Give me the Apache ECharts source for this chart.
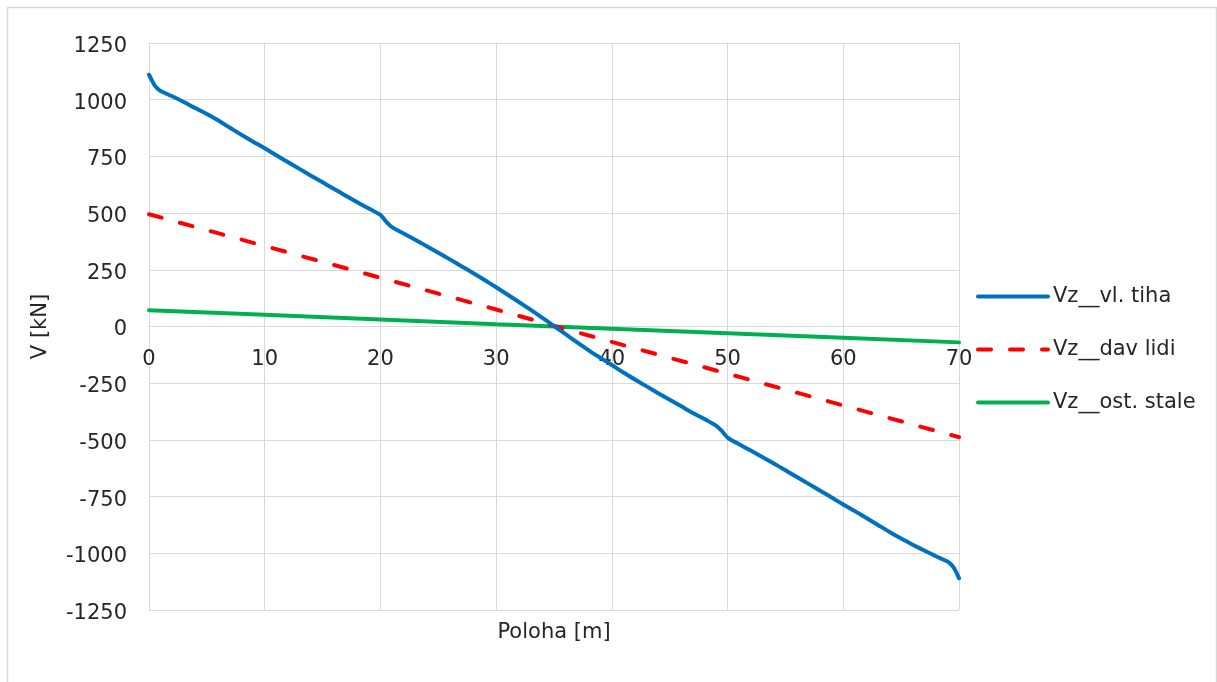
<!DOCTYPE html>
<html>
<head>
<meta charset="utf-8">
<script src="https://cdn.jsdelivr.net/npm/echarts@6/dist/echarts.min.js"></script>
<style>
html,body{margin:0;padding:0;background:#fff;}
#chart{width:1217px;height:682px;}
</style>
</head>
<body>
<div id="chart"></div>
<script>
// Data
var seriesNames = ['Vz__vl. tiha', 'Vz__dav lidi', 'Vz__ost. stale'];

var blueX = [0, 0.25, 0.5, 0.75, 1, 2, 3, 4, 5, 6, 7, 8, 9, 10, 11, 12, 13, 14, 15, 16, 17, 18, 19, 20, 20.5, 21, 22, 23, 24, 25, 26, 27, 28, 29, 30, 31, 32, 33, 34, 35, 36, 37, 38, 39, 40, 41, 42, 43, 44, 45, 46, 47, 48, 49, 49.5, 50, 51, 52, 53, 54, 55, 56, 57, 58, 59, 60, 61, 62, 63, 64, 65, 66, 67, 68, 69, 69.25, 69.5, 69.75, 70];
var blueV = [1110, 1085, 1062, 1048, 1038, 1015, 990, 963, 937, 908, 876, 845, 815, 786, 755, 725, 695, 665, 636, 606, 577, 548, 520, 492, 462, 438, 410, 383, 354, 325, 296, 266, 236, 205, 173, 140, 107, 73, 38, 2, -34, -70, -105, -138, -170, -203, -234, -264, -294, -323, -352, -381, -408, -437, -460, -490, -519, -547, -575, -604, -634, -664, -694, -724, -754, -785, -814, -844, -875, -906, -935, -962, -988, -1013, -1036, -1046, -1060, -1082, -1110];

var redX = [0, 10, 20, 30, 35, 40, 50, 60, 70];
var redV = [495, 355, 215, 75, 3, -68, -208, -348, -488];

var greenX = [0, 10, 20, 30, 35, 40, 50, 60, 70];
var greenV = [72, 52, 31, 10, 0, -10, -30, -50, -70];

var xTicks = [0, 10, 20, 30, 40, 50, 60, 70];
var yTicks = [-1250, -1000, -750, -500, -250, 0, 250, 500, 750, 1000, 1250];

function pairs(xs, ys) { return xs.map(function (x, i) { return [x, ys[i]]; }); }

var FONT = 'DejaVu Sans';
var TXT = '#262626';
var GRID = '#d9d9d9';
var FS = 21;

var chart = echarts.init(document.getElementById('chart'), null, { renderer: 'canvas' });
chart.setOption({
  animation: false,
  backgroundColor: '#fff',
  textStyle: { fontFamily: FONT },
  graphic: [{
    type: 'rect', left: 5, top: 5,
    shape: { width: 1209, height: 690 },
    style: { fill: 'none', stroke: GRID, lineWidth: 1.5 },
    silent: true
  }],
  grid: { left: 149, right: 258, top: 43, bottom: 72, containLabel: false, outerBoundsMode: 'none' },
  legend: {
    orient: 'vertical', left: 971, top: 281,
    itemWidth: 70, itemHeight: 4, itemGap: 32,
    itemStyle: { opacity: 0 },
    lineStyle: { width: 4, cap: 'round' },
    textStyle: { fontFamily: FONT, fontSize: FS, color: TXT },
    data: seriesNames
  },
  xAxis: {
    type: 'value', min: xTicks[0], max: xTicks[xTicks.length - 1], interval: 10,
    offset: -284,
    name: 'Poloha [m]', nameLocation: 'middle', nameGap: 296,
    nameTextStyle: { fontFamily: FONT, fontSize: FS, color: TXT },
    axisLine: { show: true, onZero: false, lineStyle: { color: GRID, width: 1 } },
    axisTick: { show: false },
    axisLabel: { fontFamily: FONT, fontSize: FS, color: TXT, margin: 23, formatter: function (v) { return String(v); } },
    splitLine: { show: true, lineStyle: { color: GRID, width: 1 } }
  },
  yAxis: {
    type: 'value', min: yTicks[0], max: yTicks[yTicks.length - 1], interval: 250,
    name: 'V [kN]', nameLocation: 'middle', nameGap: 98, nameRotate: 90,
    nameTextStyle: { fontFamily: FONT, fontSize: FS, color: TXT },
    axisLine: { show: true, onZero: false, lineStyle: { color: GRID, width: 1 } },
    axisTick: { show: false },
    axisLabel: {
      fontFamily: FONT, fontSize: FS, color: TXT, margin: 22,
      formatter: function (v) { return '{a|' + v + '}'; },
      rich: { a: { fontFamily: FONT, fontSize: FS, color: TXT, padding: [7, 0, 0, 0] } }
    },
    splitLine: { show: true, lineStyle: { color: GRID, width: 1 } }
  },
  series: [
    {
      name: seriesNames[0], type: 'line', data: pairs(blueX, blueV),
      symbol: 'none', smooth: 0.3,
      lineStyle: { color: '#0070c0', width: 4, cap: 'round', join: 'round' },
      itemStyle: { color: '#0070c0' }, z: 3
    },
    {
      name: seriesNames[1], type: 'line', data: pairs(redX, redV),
      symbol: 'none',
      lineStyle: { color: '#ff0000', width: 4, type: [13, 19], cap: 'round' },
      itemStyle: { color: '#ff0000' }, z: 2
    },
    {
      name: seriesNames[2], type: 'line', data: pairs(greenX, greenV),
      symbol: 'none',
      lineStyle: { color: '#00b050', width: 4, cap: 'round' },
      itemStyle: { color: '#00b050' }, z: 1
    }
  ]
});
</script>
</body>
</html>
